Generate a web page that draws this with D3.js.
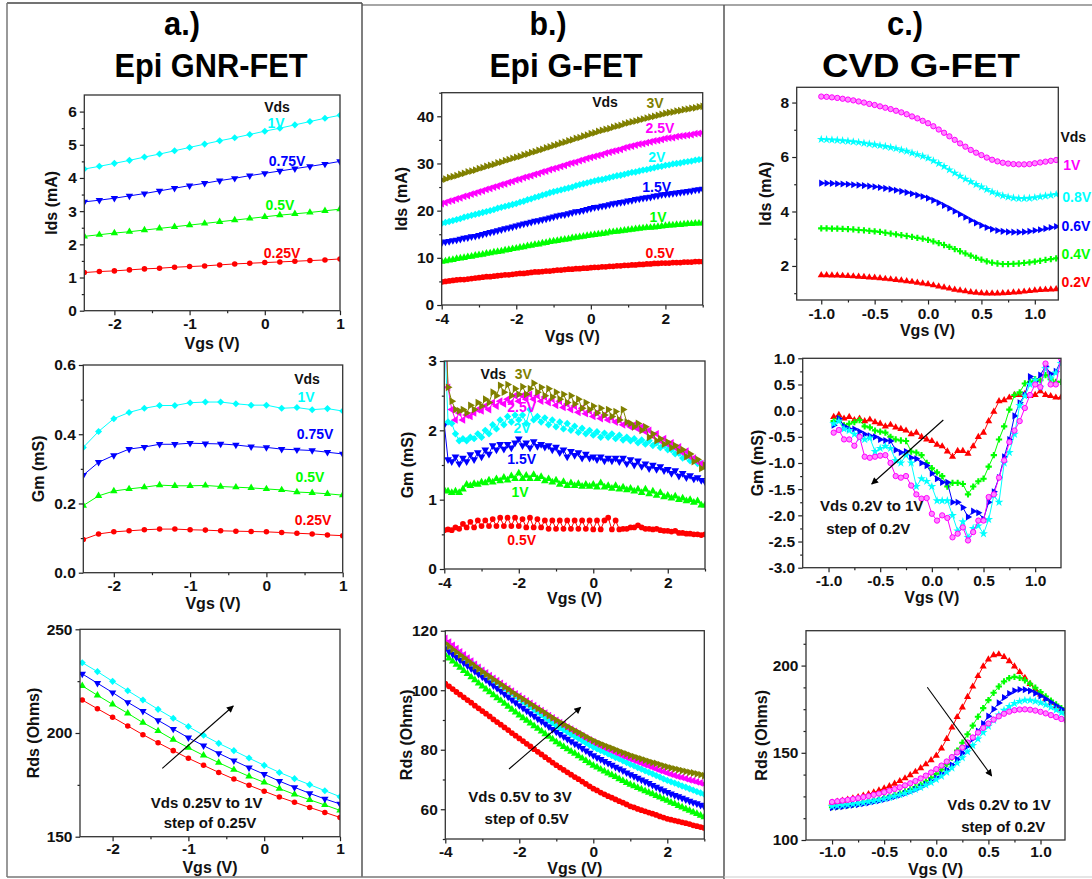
<!DOCTYPE html>
<html><head><meta charset="utf-8">
<script src="https://cdn.jsdelivr.net/npm/d3@7"></script>
<style>body{margin:0;background:#fff}</style>
</head><body>
<script>
// ---------------- DATA ----------------
const xA = [-2.4,-2.2,-2.0,-1.8,-1.6,-1.4,-1.2,-1.0,-0.8,-0.6,-0.4,-0.2,0,0.2,0.4,0.6,0.8,1.0];
const a1Red   = [1.15,1.18,1.20,1.23,1.26,1.28,1.31,1.33,1.35,1.38,1.41,1.43,1.45,1.47,1.49,1.51,1.53,1.56];
const a1Green = [2.24,2.29,2.34,2.38,2.43,2.48,2.53,2.58,2.63,2.68,2.73,2.78,2.83,2.88,2.92,2.96,3.01,3.06];
const a1Blue  = [3.28,3.33,3.39,3.46,3.53,3.61,3.69,3.77,3.84,3.92,3.99,4.07,4.14,4.21,4.28,4.35,4.42,4.50];
const a1Cyan  = [4.27,4.35,4.44,4.53,4.63,4.72,4.82,4.92,5.02,5.12,5.21,5.31,5.41,5.50,5.60,5.70,5.80,5.89];
const a2Red   = [0.096,0.112,0.118,0.121,0.124,0.126,0.126,0.124,0.123,0.121,0.120,0.119,0.118,0.116,0.114,0.112,0.109,0.107];
const a2Green = [0.194,0.222,0.236,0.242,0.247,0.253,0.251,0.251,0.252,0.249,0.247,0.245,0.242,0.239,0.233,0.231,0.228,0.224];
const a2Blue  = [0.282,0.319,0.339,0.357,0.363,0.371,0.371,0.374,0.373,0.372,0.369,0.364,0.362,0.357,0.355,0.353,0.348,0.343];
const a2Cyan  = [0.362,0.408,0.445,0.463,0.475,0.483,0.483,0.491,0.493,0.493,0.488,0.484,0.484,0.475,0.477,0.471,0.474,0.467];
const a3Red   = [215.9,211.7,207.6,203.4,199.2,195.3,191.5,187.8,184.4,181.0,177.8,174.8,171.9,169.1,166.6,164.1,161.7,159.3];
const a3Green = [222.7,218.2,213.8,209.5,205.0,201.0,196.8,192.9,189.2,185.7,182.3,179.1,176.2,173.2,170.4,167.8,165.3,162.7];
const a3Blue  = [228.5,224.0,219.5,214.8,210.5,206.1,201.9,197.7,193.9,190.2,186.7,183.3,180.1,176.8,173.8,170.9,168.2,165.8];
const a3Cyan  = [233.9,229.6,224.9,220.4,215.9,211.4,207.1,203.1,198.9,195.0,191.5,187.9,184.4,181.0,178.0,175.1,172.2,169.3];

const xB = [-4,-3.9,-3.8,-3.7,-3.6,-3.5,-3.4,-3.3,-3.2,-3.1,-3,-2.9,-2.8,-2.7,-2.6,-2.5,-2.4,-2.3,-2.2,-2.1,-2,-1.9,-1.8,-1.7,-1.6,-1.5,-1.4,-1.3,-1.2,-1.1,-1,-0.9,-0.8,-0.7,-0.6,-0.5,-0.4,-0.3,-0.2,-0.1,0,0.1,0.2,0.3,0.4,0.5,0.6,0.7,0.8,0.9,1,1.1,1.2,1.3,1.4,1.5,1.6,1.7,1.8,1.9,2,2.1,2.2,2.3,2.4,2.5,2.6,2.7,2.8,2.9,3];
const b1Olive = [26.5,26.7,27.0,27.2,27.4,27.7,27.9,28.2,28.4,28.6,28.9, 29.1,29.4,29.6,29.8,30.1,30.3,30.6,30.8,31.1,31.3, 31.5,31.8,32.0,32.3,32.5,32.8,33.0,33.3,33.5,33.8, 34.0,34.3,34.5,34.8,35.0,35.3,35.5,35.8,36.0,36.3, 36.5,36.8,37.0,37.2,37.4,37.7,37.9,38.1,38.4,38.6, 38.8,39.0,39.2,39.4,39.6,39.8,40.0,40.2,40.4,40.6, 40.8,40.9,41.1,41.2,41.4,41.5,41.7,41.8,42.0,42.1];
const b1Magenta = [21.5,21.7,22.0,22.2,22.5,22.7,23.0,23.2,23.5,23.7,24.0, 24.2,24.5,24.7,25.0,25.2,25.5,25.7,26.0,26.2,26.5, 26.7,27.0,27.2,27.4,27.7,27.9,28.2,28.4,28.7,28.9, 29.1,29.4,29.6,29.9,30.1,30.3,30.6,30.8,31.1,31.3, 31.5,31.7,31.9,32.2,32.4,32.6,32.8,33.0,33.3,33.5, 33.7,33.9,34.1,34.2,34.4,34.6,34.8,34.9,35.1,35.3, 35.4,35.5,35.7,35.8,35.9,36.0,36.1,36.3,36.4,36.5];
const b1Cyan = [17.3,17.5,17.7,17.9,18.1,18.3,18.6,18.8,19.0,19.2,19.4, 19.6,19.8,20.0,20.2,20.5,20.7,20.9,21.1,21.3,21.5, 21.8,22.0,22.3,22.5,22.8,23.0,23.3,23.5,23.8,24.0, 24.2,24.4,24.6,24.8,25.0,25.3,25.5,25.7,25.9,26.1, 26.3,26.5,26.6,26.8,27.0,27.2,27.4,27.5,27.7,27.9, 28.1,28.2,28.4,28.6,28.7,28.9,29.1,29.3,29.4,29.6, 29.7,29.9,30.0,30.1,30.3,30.4,30.5,30.7,30.8,30.9];
const b1Blue = [13.2,13.4,13.5,13.7,13.8,14.0,14.2,14.3,14.5,14.6,14.8, 15.0,15.2,15.4,15.6,15.8,16.0,16.2,16.4,16.6,16.8, 17.0,17.2,17.4,17.6,17.8,17.9,18.1,18.3,18.5,18.7, 18.9,19.1,19.2,19.4,19.6,19.8,19.9,20.1,20.3,20.5, 20.7,20.8,21.0,21.1,21.3,21.5,21.6,21.8,21.9,22.1, 22.2,22.4,22.5,22.7,22.8,22.9,23.1,23.2,23.4,23.5, 23.6,23.7,23.8,23.9,24.0,24.1,24.2,24.4,24.5,24.6];
const b1Green = [9.2,9.3,9.5,9.6,9.8,9.9,10.0,10.2,10.3,10.5,10.6, 10.7,10.9,11.0,11.2,11.3,11.4,11.6,11.7,11.9,12.0, 12.2,12.3,12.5,12.6,12.8,12.9,13.1,13.2,13.4,13.5, 13.6,13.8,13.9,14.0,14.2,14.3,14.4,14.5,14.7,14.8, 14.9,15.0,15.1,15.2,15.4,15.5,15.6,15.7,15.8,15.9, 16.0,16.1,16.2,16.3,16.4,16.4,16.5,16.6,16.7,16.8, 16.9,16.9,17.0,17.0,17.1,17.2,17.2,17.3,17.3,17.4];
const b1Red = [4.9,5.0,5.1,5.2,5.3,5.4,5.4,5.5,5.6,5.7,5.8, 5.9,6.0,6.0,6.1,6.2,6.3,6.4,6.4,6.5,6.6, 6.7,6.7,6.8,6.9,7.0,7.0,7.1,7.2,7.2,7.3, 7.4,7.4,7.5,7.6,7.6,7.7,7.7,7.8,7.8,7.9, 8.0,8.0,8.1,8.1,8.2,8.2,8.3,8.3,8.4,8.4, 8.5,8.5,8.6,8.6,8.7,8.7,8.8,8.8,8.9,8.9, 8.9,9.0,9.0,9.0,9.1,9.1,9.1,9.2,9.2,9.2];

const b2Olive = [4.2,2.62,2.42,2.3,2.28,2.3,2.25,2.36,2.3,2.4,2.35, 2.45,2.4,2.55,2.5,2.65,2.55,2.66,2.5,2.6,2.52, 2.63,2.52,2.6,2.68,2.55,2.62,2.5,2.6,2.48,2.55, 2.45,2.52,2.4,2.5,2.38,2.45,2.32,2.4,2.3,2.35, 2.25,2.32,2.22,2.3,2.2,2.27,2.15,2.3,2.12,2.1, 2.05,2.1,2.0,2.05,1.9,1.95,1.85,1.88,1.8,1.83, 1.75,1.78,1.7,1.72,1.62,1.66,1.55,1.58,1.45,1.5];
const b2Magenta = [3.8,2.62,2.3,2.15,2.25,2.15,2.22,2.2,2.25,2.3,2.28, 2.35,2.3,2.4,2.35,2.42,2.38,2.45,2.4,2.5,2.42, 2.5,2.45,2.52,2.45,2.5,2.42,2.48,2.4,2.45,2.36, 2.42,2.33,2.38,2.3,2.35,2.26,2.32,2.24,2.28,2.2, 2.25,2.17,2.22,2.15,2.18,2.12,2.15,2.08,2.1,2.05, 2.08,2.02,2.05,1.98,2.0,1.92,1.95,1.85,1.88,1.8, 1.82,1.75,1.76,1.68,1.7,1.62,1.6,1.55,1.52,1.48];
const b2Cyan = [3.5,2.12,2.1,1.95,1.85,1.88,1.85,1.9,1.88,1.95,1.9, 2.0,1.95,2.08,2.02,2.15,2.08,2.2,2.12,2.22,2.15, 2.22,2.1,2.3,2.15,2.2,2.12,2.18,2.08,2.15,2.05, 2.12,2.02,2.1,2.0,2.06,1.97,2.03,1.95,2.0,1.93, 1.98,1.9,1.96,1.9,1.95,1.88,1.93,1.86,1.9,1.85, 1.88,1.82,1.86,1.8,1.85,1.78,1.82,1.75,1.78,1.72, 1.72,1.66,1.67,1.6,1.62,1.56,1.57,1.52,1.52,1.48];
const b2Blue = [2.08,1.58,1.55,1.62,1.52,1.6,1.55,1.65,1.58,1.68,1.62, 1.72,1.66,1.78,1.72,1.8,1.73,1.8,1.75,1.82,1.88, 1.78,1.82,1.75,1.84,1.77,1.8,1.76,1.78,1.72,1.76, 1.68,1.72,1.62,1.7,1.64,1.68,1.6,1.66,1.6,1.62, 1.58,1.62,1.56,1.6,1.56,1.6,1.55,1.6,1.52,1.58, 1.5,1.56,1.48,1.52,1.45,1.5,1.44,1.48,1.42,1.44, 1.38,1.42,1.34,1.38,1.32,1.35,1.3,1.32,1.28,1.26];
const b2Green = [1.14,1.12,1.1,1.12,1.1,1.15,1.22,1.2,1.23,1.22,1.25, 1.24,1.28,1.25,1.3,1.27,1.32,1.28,1.34,1.3,1.38, 1.3,1.35,1.3,1.36,1.3,1.33,1.27,1.3,1.25,1.28, 1.22,1.26,1.2,1.24,1.2,1.23,1.19,1.22,1.19,1.22, 1.18,1.24,1.18,1.2,1.16,1.2,1.15,1.18,1.14,1.16, 1.12,1.15,1.1,1.15,1.08,1.12,1.06,1.1,1.04,1.06, 1.02,1.05,1.0,1.02,0.98,1.0,0.96,0.98,0.92,0.92];
const b2Red = [0.56,0.57,0.56,0.6,0.58,0.65,0.6,0.68,0.6,0.7,0.62, 0.7,0.62,0.72,0.62,0.74,0.62,0.74,0.62,0.74,0.62, 0.72,0.6,0.74,0.6,0.72,0.6,0.7,0.58,0.7,0.58, 0.7,0.58,0.7,0.58,0.7,0.58,0.7,0.58,0.7,0.57, 0.7,0.57,0.7,0.74,0.57,0.7,0.57,0.58,0.58,0.6, 0.6,0.63,0.6,0.58,0.58,0.57,0.58,0.56,0.55,0.55, 0.54,0.55,0.52,0.52,0.51,0.51,0.5,0.5,0.49,0.5];

const b3Olive = [115.7,114.7,113.7,112.8,111.8,110.9,109.9,109.0,108.0,107.1,106.2, 105.3,104.5,103.6,102.8,102.0,101.1,100.3,99.4,98.6,97.8, 97.0,96.2,95.4,94.6,93.8,93.1,92.3,91.5,90.7,89.9, 89.2,88.5,87.8,87.1,86.4,85.8,85.1,84.4,83.7,83.1, 82.5,82.0,81.5,81.0,80.5,80.0,79.5,79.0,78.6,78.1, 77.7,77.3,76.9,76.5,76.1,75.7,75.4,75.0,74.6,74.2, 73.9,73.6,73.3,73.0,72.7,72.4,72.2,71.9,71.6,71.3];
const b3Magenta = [117.4,116.2,115.1,114.0,112.9,111.9,110.8,109.8,108.7,107.7,106.7, 105.8,104.9,104.0,103.2,102.3,101.4,100.5,99.7,98.8,98.0, 97.2,96.4,95.6,94.8,93.9,93.1,92.3,91.5,90.7,89.9, 89.1,88.4,87.6,86.9,86.2,85.4,84.7,84.0,83.3,82.6, 82.0,81.4,80.8,80.2,79.7,79.1,78.6,78.0,77.5,77.0, 76.5,76.0,75.5,75.0,74.6,74.1,73.6,73.1,72.7,72.2, 71.8,71.4,71.0,70.7,70.3,69.9,69.6,69.2,68.9,68.5];
const b3Cyan = [116.3,115.3,114.3,113.3,112.3,111.3,110.3,109.4,108.4,107.4,106.4, 105.5,104.6,103.6,102.7,101.8,100.9,100.0,99.0,98.1,97.2, 96.3,95.4,94.5,93.6,92.7,91.8,90.9,90.0,89.1,88.2, 87.4,86.7,86.0,85.2,84.5,83.8,83.1,82.3,81.6,80.9, 80.3,79.7,79.2,78.6,78.0,77.4,76.9,76.3,75.7,75.1, 74.6,74.0,73.5,72.9,72.4,71.9,71.3,70.8,70.2,69.7, 69.2,68.8,68.3,67.8,67.4,66.9,66.4,65.9,65.5,65.0];
const b3Blue = [114.0,113.0,112.1,111.1,110.2,109.2,108.3,107.3,106.4,105.4,104.5, 103.5,102.6,101.6,100.7,99.7,98.7,97.8,96.8,95.9,94.9, 94.0,93.1,92.2,91.3,90.4,89.6,88.7,87.8,86.9,86.0, 85.2,84.4,83.6,82.8,82.0,81.3,80.5,79.7,78.9,78.1, 77.4,76.8,76.1,75.5,74.9,74.2,73.6,73.0,72.3,71.7, 71.1,70.5,69.9,69.3,68.7,68.1,67.5,66.9,66.3,65.7, 65.2,64.7,64.3,63.8,63.3,62.8,62.3,61.9,61.4,60.9];
const b3Green = [111.8,110.7,109.7,108.6,107.6,106.5,105.5,104.4,103.4,102.3,101.3, 100.3,99.4,98.4,97.4,96.5,95.5,94.5,93.5,92.6,91.6, 90.7,89.8,88.9,88.0,87.1,86.2,85.3,84.4,83.5,82.6, 81.8,81.0,80.2,79.4,78.7,77.9,77.1,76.3,75.5,74.7, 74.1,73.4,72.8,72.1,71.5,70.9,70.2,69.6,68.9,68.3, 67.8,67.2,66.7,66.1,65.6,65.1,64.5,64.0,63.4,62.9, 62.3,61.8,61.2,60.7,60.1,59.6,59.0,58.5,57.9,57.4];
const b3Red = [102.2,101.3,100.4,99.4,98.5,97.6,96.7,95.8,94.8,93.9,93.0, 92.1,91.2,90.2,89.3,88.4,87.5,86.6,85.6,84.7,83.8, 82.9,82.0,81.1,80.2,79.3,78.4,77.5,76.6,75.7,74.8, 74.0,73.2,72.4,71.6,70.8,70.1,69.3,68.5,67.7,66.9, 66.3,65.6,65.0,64.4,63.9,63.3,62.7,62.2,61.6,61.0, 60.6,60.1,59.7,59.3,58.9,58.5,58.1,57.6,57.2,56.8, 56.5,56.2,55.9,55.6,55.3,55.0,54.6,54.3,54.0,53.7];

const xC = [-1,-0.95,-0.9,-0.85,-0.8,-0.75,-0.7,-0.65,-0.6,-0.55,-0.5,-0.45,-0.4,-0.35,-0.3,-0.25,-0.2,-0.15,-0.1,-0.05,0,0.05,0.1,0.15,0.2,0.25,0.3,0.35,0.4,0.45,0.5,0.55,0.6,0.65,0.7,0.75,0.8,0.85,0.9,0.95,1,1.05,1.1,1.15,1.2,1.25];
const c1Magenta = [8.22,8.21,8.19,8.17,8.14,8.11,8.08,8.04,8.00,7.95, 7.91,7.86,7.81,7.76,7.70,7.64,7.57,7.49,7.42,7.33, 7.24,7.13,7.01,6.89,6.76,6.63,6.50,6.38,6.26,6.16, 6.07,5.98,5.90,5.84,5.79,5.76,5.74,5.73,5.73,5.74, 5.77,5.80,5.83,5.86,5.89,5.92];
const c1Cyan = [6.65,6.64,6.63,6.62,6.60,6.58,6.56,6.54,6.51,6.48, 6.45,6.42,6.39,6.35,6.31,6.26,6.21,6.15,6.09,6.03, 5.96,5.86,5.76,5.65,5.53,5.41,5.30,5.19,5.09,4.99, 4.90,4.81,4.72,4.64,4.58,4.53,4.50,4.48,4.48,4.49, 4.51,4.54,4.57,4.60,4.63,4.66];
const c1Blue = [5.04,5.04,5.03,5.02,5.01,5.00,4.98,4.97,4.95,4.93, 4.91,4.88,4.85,4.82,4.78,4.74,4.70,4.65,4.60,4.55, 4.49,4.41,4.32,4.22,4.12,4.01,3.90,3.79,3.68,3.58, 3.49,3.41,3.35,3.30,3.27,3.25,3.24,3.24,3.25,3.27, 3.30,3.33,3.37,3.41,3.45,3.49];
const c1Green = [3.38,3.38,3.37,3.37,3.36,3.35,3.34,3.32,3.31,3.29, 3.27,3.25,3.22,3.19,3.16,3.13,3.10,3.07,3.03,3.00, 2.96,2.90,2.84,2.77,2.70,2.62,2.54,2.46,2.38,2.30, 2.23,2.17,2.12,2.09,2.07,2.07,2.08,2.09,2.11,2.13, 2.16,2.19,2.22,2.25,2.28,2.31];
const c1Red = [1.66,1.66,1.65,1.65,1.64,1.63,1.62,1.61,1.60,1.58, 1.57,1.55,1.53,1.51,1.49,1.47,1.44,1.42,1.39,1.36, 1.33,1.29,1.25,1.21,1.17,1.13,1.10,1.07,1.04,1.02, 1.00,0.99,0.99,0.99,1.00,1.01,1.03,1.04,1.06,1.08, 1.10,1.12,1.13,1.14,1.15,1.16];

const xC2 = [-0.95,-0.9,-0.85,-0.8,-0.75,-0.7,-0.65,-0.6,-0.55,-0.5,-0.45,-0.4,-0.35,-0.3,-0.25,-0.2,-0.15,-0.1,-0.05,0,0.05,0.1,0.15,0.2,0.25,0.3,0.35,0.4,0.45,0.5,0.55,0.6,0.65,0.7,0.75,0.8,0.85,0.9,0.95,1,1.05,1.1,1.15,1.2,1.25];
const c2Red = [-0.12,-0.08,-0.15,-0.12,-0.18,-0.15,-0.2,-0.17,-0.22,-0.25, -0.3,-0.27,-0.32,-0.35,-0.38,-0.45,-0.42,-0.5,-0.55,-0.58, -0.65,-0.68,-0.78,-0.88,-0.77,-0.77,-0.82,-0.68,-0.5,-0.42, -0.2,-0.02,0.18,0.2,0.25,0.3,0.3,0.32,0.28,0.3, 0.37,0.3,0.28,0.25,0.25];
const c2Green = [-0.2,-0.15,-0.28,-0.25,-0.22,-0.18,-0.3,-0.32,-0.38,-0.4, -0.42,-0.5,-0.55,-0.57,-0.58,-0.78,-0.8,-0.85,-1.0,-1.1, -1.18,-1.25,-1.45,-1.38,-1.38,-1.4,-1.6,-1.45,-1.35,-1.3, -1.07,-0.85,-0.55,-0.3,0.02,0.3,0.35,0.52,0.55,0.6, 0.58,0.68,0.6,0.55,0.55];
const c2Blue = [-0.28,-0.15,-0.3,-0.35,-0.35,-0.4,-0.45,-0.48,-0.5,-0.55, -0.57,-0.58,-0.75,-0.8,-0.78,-0.9,-0.92,-1.0,-1.05,-1.2, -1.3,-1.37,-1.37,-1.75,-1.75,-1.85,-2.03,-1.92,-1.95,-2.07, -1.75,-1.55,-1.28,-0.88,-0.55,-0.1,0.15,0.3,0.65,0.55, 0.68,0.85,0.7,0.75,0.95];
const c2Cyan = [-0.25,-0.2,-0.35,-0.38,-0.45,-0.52,-0.55,-0.52,-0.78,-0.72, -0.68,-0.72,-0.95,-1.0,-0.85,-1.0,-1.45,-1.3,-1.35,-1.45, -1.72,-1.72,-1.72,-2.0,-2.3,-2.12,-2.42,-2.25,-2.2,-2.35, -2.08,-1.62,-1.75,-1.0,-0.8,-0.45,0.1,0.28,0.5,0.58, 0.45,0.8,0.62,0.72,0.9];
const c2Magenta = [-0.42,-0.37,-0.55,-0.55,-0.67,-0.5,-0.88,-0.9,-0.88,-0.86, -0.85,-1.0,-1.25,-1.28,-1.25,-1.43,-1.6,-1.68,-1.67,-1.97, -2.1,-2.0,-2.05,-2.42,-2.35,-2.23,-2.48,-2.32,-2.1,-2.1, -1.65,-1.6,-1.28,-0.95,-0.6,-0.38,-0.2,0.05,0.3,0.5, 0.45,0.9,0.5,0.5,1.0];

const c3Red = [121.5,122.0,122.6,123.2,123.9,124.6,125.4,126.3,127.3,128.4, 129.6,130.9,132.3,133.8,135.4,137.2,139.1,141.2,143.4,145.8, 148.4,152.5,158.0,164.5,170.5,176.0,182.0,188.0,194.0,199.5, 203.5,206.0,206.5,205.0,202.5,199.5,196.3,193.0,189.5,186.3, 183.5,181.0,178.7,176.6,174.8,173.2];
const c3Green = [118.8,119.1,119.5,119.9,120.3,120.8,121.3,121.9,122.5,123.2, 124.0,124.8,125.7,126.7,127.8,129.0,130.3,131.8,133.5,135.5, 137.8,140.4,143.5,147.2,151.3,155.8,160.6,165.6,170.7,175.6, 180.2,184.4,188.0,190.9,192.8,193.5,193.0,191.6,189.6,187.3, 184.8,182.3,179.9,177.7,175.6,173.6];
const c3Blue = [118.5,118.8,119.1,119.5,119.9,120.3,120.8,121.3,121.9,122.5, 123.2,124.0,124.8,125.7,126.7,127.8,129.0,130.4,131.9,133.6, 135.5,137.7,140.2,143.0,146.2,149.8,153.8,158.0,162.4,166.8, 171.0,175.0,178.6,181.7,184.0,185.6,186.3,186.2,185.5,184.2, 182.6,180.8,178.9,177.0,175.1,173.3];
const c3Cyan = [119.3,119.6,119.9,120.2,120.6,121.0,121.4,121.9,122.4,123.0, 123.6,124.3,125.1,125.9,126.8,127.8,128.9,130.1,131.5,133.0, 134.7,136.6,138.8,141.3,144.1,147.2,150.6,154.2,157.9,161.6, 165.2,168.6,171.7,174.4,176.6,178.3,179.5,180.1,180.1,179.6, 178.7,177.5,176.1,174.6,173.0,171.5];
const c3Magenta = [121.8,122.2,122.6,123.0,123.5,124.0,124.6,125.2,125.9,126.6, 127.4,128.3,129.2,130.2,131.3,132.5,133.8,135.3,136.9,138.7, 140.6,142.7,145.0,147.5,150.2,153.0,155.9,158.8,161.6,164.3, 166.8,169.0,170.9,172.4,173.6,174.4,174.8,174.9,174.7,174.2, 173.5,172.6,171.6,170.5,169.4,168.3];

const xTicksA = [-2,-1,0,1];
const xTicksB = [-4,-2,0,2];
const xTicksC = [-1,-0.5,0,0.5,1];

// ---------------- DRAWING ----------------
const W=1092,H=879;
const FONT="'Liberation Sans', Arial, Helvetica, sans-serif";
const COL={red:"#ff0000",green:"#00ff00",blue:"#0000ff",cyan:"#00ffff",magenta:"#ff00ff",olive:"#808000"};
const svg=d3.select("body").append("svg").attr("width",W).attr("height",H).style("display","block");
svg.append("rect").attr("width",W).attr("height",H).attr("fill","#fff");
const defs=svg.append("defs");
defs.append("marker").attr("id","ah").attr("viewBox","0 0 10 10").attr("refX",9).attr("refY",5)
  .attr("markerWidth",9).attr("markerHeight",7).attr("markerUnits","userSpaceOnUse").attr("orient","auto")
  .append("path").attr("d","M0,0L10,5L0,10Z").attr("fill","#000");

const hy = s => s.replace(/\u2212/g,"-");
const fInt = v => hy(d3.format("d")(v));
const f1 = v => hy(d3.format(".1f")(v));
const ROT={down:180,left:-90,right:90};
function markerPath(m,s){
  const r=Math.sqrt(s);
  if(m==="circle"||m==="ball") return d3.symbol(d3.symbolCircle,s)();
  if(m==="diamond"){const a=r*0.72;return `M0,${-a}L${a},0L0,${a}L${-a},0Z`;}
  if(m==="star") return d3.symbol(d3.symbolStar,s*1.1)();
  if(m==="cross") return d3.symbol(d3.symbolCross,s)();
  return d3.symbol(d3.symbolTriangle,s)();
}
function txt(sel,x,y,t,size,color,anchor){
  return sel.append("text").attr("x",x).attr("y",y).attr("text-anchor",anchor||"middle")
    .attr("dominant-baseline","central").attr("font-family",FONT).attr("font-weight","bold")
    .attr("font-size",size).attr("fill",color||"#111").text(t);
}
let clipN=0;
function panel(p){
  const x=d3.scaleLinear().domain(p.xd).range([p.l,p.r]);
  const y=d3.scaleLinear().domain(p.yd).range([p.b,p.t]);
  const g=svg.append("g");
  const cid="clip"+(clipN++);
  defs.append("clipPath").attr("id",cid).append("rect").attr("x",p.l).attr("y",p.t).attr("width",p.r-p.l).attr("height",p.b-p.t);
  const dg=g.append("g").attr("clip-path",`url(#${cid})`);
  p.series.forEach(s=>{
    const pts=s.x.map((v,i)=>[v,s.y[i]]);
    dg.append("path").attr("d",d3.line().x(d=>x(d[0])).y(d=>y(d[1]))(pts))
      .attr("fill","none").attr("stroke",s.c).attr("stroke-width",1);
    const mp=markerPath(s.m,p.ms);
    dg.append("g").selectAll("path").data(pts).join("path").attr("d",mp)
      .attr("transform",d=>`translate(${x(d[0])},${y(d[1])})rotate(${ROT[s.m]||0})`)
      .attr("fill",s.m==="ball"?"#ff88ff":s.c).attr("stroke",s.m==="ball"?s.c:"none").attr("stroke-width",1);
  });
  const pad=p.tp==null?3:p.tp;
  const ax=g.append("g");
  ax.append("g").attr("transform",`translate(0,${p.b})`).call(d3.axisBottom(x).tickValues(p.xt).tickFormat(p.xf).tickSize(4.5).tickPadding(pad));
  ax.append("g").attr("transform",`translate(0,${p.b})`).call(d3.axisBottom(x).tickValues(p.xm).tickFormat("").tickSize(2.5));
  ax.append("g").attr("transform",`translate(${p.l},0)`).call(d3.axisLeft(y).tickValues(p.yt).tickFormat(p.yf).tickSize(4.5).tickPadding(3));
  ax.append("g").attr("transform",`translate(${p.l},0)`).call(d3.axisLeft(y).tickValues(p.ym).tickFormat("").tickSize(2.5));
  ax.selectAll(".domain").remove();
  ax.selectAll(".tick line").attr("stroke","#222").attr("stroke-width",1.2);
  ax.selectAll(".tick text").attr("font-family",FONT).attr("font-size",15.5).attr("font-weight","bold").attr("fill","#111");
  g.append("rect").attr("x",p.l).attr("y",p.t).attr("width",p.r-p.l).attr("height",p.b-p.t)
    .attr("fill","none").attr("stroke","#333").attr("stroke-width",1.3);
  txt(g,(p.l+p.r)/2,p.xty,"Vgs (V)",16);
  txt(g,0,0,p.ytitle,16).attr("transform",`translate(${p.ytx},${(p.t+p.b)/2})rotate(-90)`);
  (p.labels||[]).forEach(L=>txt(g,L.x,L.y,L.t,14,L.c));
  if(p.arrow){
    const A=p.arrow;
    g.append("line").attr("x1",A.x1).attr("y1",A.y1).attr("x2",A.x2).attr("y2",A.y2)
      .attr("stroke","#000").attr("stroke-width",1.1).attr("marker-end","url(#ah)");
    A.text.forEach(T=>txt(g,T.x,T.y,T.t,15,"#111"));
  }
}

// outer boxes
const box=svg.append("g").attr("fill","none");
box.append("line").attr("x1",7).attr("y1",3).attr("x2",362).attr("y2",3).attr("stroke","#444").attr("stroke-width",1.5);
box.append("line").attr("x1",362).attr("y1",5).attr("x2",1092).attr("y2",5).attr("stroke","#888").attr("stroke-width",1.5);
box.append("line").attr("x1",7).attr("y1",3).attr("x2",7).attr("y2",877).attr("stroke","#777").attr("stroke-width",1.5);
box.append("line").attr("x1",362).attr("y1",3).attr("x2",362).attr("y2",877).attr("stroke","#555").attr("stroke-width",1.5);
box.append("line").attr("x1",724).attr("y1",5).attr("x2",724).attr("y2",879).attr("stroke","#555").attr("stroke-width",1.5);
box.append("line").attr("x1",7).attr("y1",877).attr("x2",724).attr("y2",877).attr("stroke","#777").attr("stroke-width",1.5);
box.append("line").attr("x1",724).attr("y1",877).attr("x2",1092).attr("y2",877).attr("stroke","#ccc").attr("stroke-width",1.2);

// headings
function heading(x,y,t,len){
  svg.append("text").attr("x",x).attr("y",y).attr("text-anchor","middle").attr("dominant-baseline","central")
    .attr("font-family","'Liberation Sans Narrow','Arial Narrow','Liberation Sans',Arial,sans-serif")
    .attr("font-weight","bold").attr("font-size",34).attr("fill","#000")
    .attr("textLength",len).attr("lengthAdjust","spacingAndGlyphs").text(t);
}
heading(182,23,"a.)",36);
heading(211,65,"Epi GNR-FET",193);
heading(548,23,"b.)",37);
heading(566,65,"Epi G-FET",153);
heading(905,23,"c.)",36);
heading(921,65,"CVD G-FET",198);

// panel a
panel({l:84.3,t:95,r:340,b:310.7,xd:[-2.4,1],yd:[0,6.5],xt:xTicksA,xm:[-1.5,-0.5,0.5],xf:fInt,
  yt:[0,1,2,3,4,5,6],ym:[0.5,1.5,2.5,3.5,4.5,5.5],yf:fInt,ms:24,ytitle:"Ids (mA)",ytx:51.7,xty:343,
  series:[{x:xA,y:a1Red,c:COL.red,m:"circle"},{x:xA,y:a1Green,c:COL.green,m:"up"},{x:xA,y:a1Blue,c:COL.blue,m:"down"},{x:xA,y:a1Cyan,c:COL.cyan,m:"diamond"}],
  labels:[{t:"Vds",x:277,y:106.7,c:"#111"},{t:"1V",x:276,y:123,c:COL.cyan},{t:"0.75V",x:287,y:160.7,c:COL.blue},{t:"0.5V",x:280,y:205,c:COL.green},{t:"0.25V",x:282,y:253,c:COL.red}]});
panel({l:83.3,t:365,r:342.7,b:572.7,xd:[-2.4,1],yd:[0,0.6],xt:xTicksA,xm:[-1.5,-0.5,0.5],xf:fInt,
  yt:[0,0.2,0.4,0.6],ym:[0.1,0.3,0.5],yf:f1,ms:24,ytitle:"Gm (mS)",ytx:38,xty:603,
  series:[{x:xA,y:a2Red,c:COL.red,m:"circle"},{x:xA,y:a2Green,c:COL.green,m:"up"},{x:xA,y:a2Blue,c:COL.blue,m:"down"},{x:xA,y:a2Cyan,c:COL.cyan,m:"diamond"}],
  labels:[{t:"Vds",x:307,y:379,c:"#111"},{t:"1V",x:306,y:397,c:COL.cyan},{t:"0.75V",x:315,y:434,c:COL.blue},{t:"0.5V",x:310,y:477,c:COL.green},{t:"0.25V",x:313,y:520,c:COL.red}]});
panel({l:80,t:629.3,r:340,b:836.7,xd:[-2.43,1],yd:[150,250],xt:xTicksA,xm:[-1.5,-0.5,0.5],xf:fInt,
  yt:[150,200,250],ym:[175,225],yf:fInt,ms:24,ytitle:"Rds (Ohms)",ytx:33,xty:867.5,tp:2,
  series:[{x:xA,y:a3Red,c:COL.red,m:"circle"},{x:xA,y:a3Green,c:COL.green,m:"up"},{x:xA,y:a3Blue,c:COL.blue,m:"down"},{x:xA,y:a3Cyan,c:COL.cyan,m:"diamond"}],
  arrow:{x1:162.3,y1:768.3,x2:233.3,y2:706,text:[{t:"Vds 0.25V to 1V",x:206.7,y:802.7},{t:"step of 0.25V",x:210,y:822.7}]}});

// panel b
const bSeries=(r,g,bl,cy,mg,ol)=>[{x:xB,y:r,c:COL.red,m:"circle"},{x:xB,y:g,c:COL.green,m:"up"},{x:xB,y:bl,c:COL.blue,m:"down"},{x:xB,y:cy,c:COL.cyan,m:"diamond"},{x:xB,y:mg,c:COL.magenta,m:"left"},{x:xB,y:ol,c:COL.olive,m:"right"}];
panel({l:441.7,t:92.7,r:702.7,b:305,xd:[-4,3],yd:[0,45],xt:xTicksB,xm:[-3,-1,1,3],xf:fInt,
  yt:[0,10,20,30,40],ym:[5,15,25,35,45],yf:fInt,ms:26,ytitle:"Ids (mA)",ytx:401.7,xty:336.7,
  series:bSeries(b1Red,b1Green,b1Blue,b1Cyan,b1Magenta,b1Olive),
  labels:[{t:"Vds",x:605,y:101.7,c:"#111"},{t:"3V",x:655,y:103,c:COL.olive},{t:"2.5V",x:660,y:128,c:COL.magenta},{t:"2V",x:656.7,y:157,c:COL.cyan},{t:"1.5V",x:656.7,y:187,c:COL.blue},{t:"1V",x:658,y:216.7,c:COL.green},{t:"0.5V",x:660,y:252.7,c:COL.red}]});
panel({l:444.3,t:361,r:705,b:569,xd:[-4,3],yd:[0,3],xt:xTicksB,xm:[-3,-1,1,3],xf:fInt,
  yt:[0,1,2,3],ym:[0.5,1.5,2.5],yf:fInt,ms:26,ytitle:"Gm (mS)",ytx:407.7,xty:598,
  series:bSeries(b2Red,b2Green,b2Blue,b2Cyan,b2Magenta,b2Olive),
  labels:[{t:"Vds",x:493.3,y:374.3,c:"#111"},{t:"3V",x:523.3,y:374,c:COL.olive},{t:"2.5V",x:521.7,y:406.7,c:COL.magenta},{t:"2V",x:522,y:428,c:COL.cyan},{t:"1.5V",x:521.7,y:459,c:COL.blue},{t:"1V",x:520,y:491.7,c:COL.green},{t:"0.5V",x:521.7,y:540,c:COL.red}]});
panel({l:445.3,t:630.7,r:704.3,b:839,xd:[-4,3],yd:[50,120],xt:xTicksB,xm:[-3,-1,1,3],xf:fInt,
  yt:[60,80,100,120],ym:[50,70,90,110],yf:fInt,ms:26,ytitle:"Rds (Ohms)",ytx:406.7,xty:868,tp:2,
  series:bSeries(b3Red,b3Green,b3Blue,b3Cyan,b3Magenta,b3Olive),
  arrow:{x1:509,y1:769,x2:580.7,y2:707.3,text:[{t:"Vds 0.5V to 3V",x:520,y:796.7},{t:"step of 0.5V",x:526.7,y:818.3}]}});

// panel c
const cSeries=(xs,r,g,bl,cy,mg)=>[{x:xs,y:r,c:COL.red,m:"up"},{x:xs,y:g,c:COL.green,m:"cross"},{x:xs,y:bl,c:COL.blue,m:"right"},{x:xs,y:cy,c:COL.cyan,m:"star"},{x:xs,y:mg,c:COL.magenta,m:"ball"}];
panel({l:796.7,t:87.3,r:1058.3,b:300,xd:[-1.23,1.22],yd:[0.75,8.56],xt:xTicksC,xm:[-0.75,-0.25,0.25,0.75],xf:f1,
  yt:[2,4,6,8],ym:[1,3,5,7],yf:fInt,ms:22,ytitle:"Ids (mA)",ytx:765,xty:330.7,
  series:cSeries(xC,c1Red,c1Green,c1Blue,c1Cyan,c1Magenta),
  labels:[{t:"Vds",x:1073.3,y:137.3,c:"#111"},{t:"1V",x:1071.7,y:165,c:COL.magenta},{t:"0.8V",x:1076.7,y:196.7,c:COL.cyan},{t:"0.6V",x:1076,y:226,c:COL.blue},{t:"0.4V",x:1076,y:254,c:COL.green},{t:"0.2V",x:1076,y:281.7,c:COL.red}]});
panel({l:802.7,t:358.3,r:1061,b:567.7,xd:[-1.25,1.25],yd:[-3,1],xt:xTicksC,xm:[-0.75,-0.25,0.25,0.75],xf:f1,
  yt:[-3,-2.5,-2,-1.5,-1,-0.5,0,0.5,1],ym:[-2.75,-2.25,-1.75,-1.25,-0.75,-0.25,0.25,0.75],yf:f1,ms:22,ytitle:"Gm (mS)",ytx:757.7,xty:597.3,
  series:cSeries(xC2,c2Red,c2Green,c2Blue,c2Cyan,c2Magenta),
  arrow:{x1:943.3,y1:420,x2:871.7,y2:484,text:[{t:"Vds 0.2V to 1V",x:871.7,y:505.7},{t:"step of 0.2V",x:868.3,y:528.3}]}});
panel({l:806,t:630.7,r:1065,b:840,xd:[-1.25,1.235],yd:[100,220],xt:xTicksC,xm:[-0.75,-0.25,0.25,0.75],xf:f1,
  yt:[100,150,200],ym:[112.5,125,137.5,162.5,175,187.5,212.5],yf:fInt,ms:22,ytitle:"Rds (Ohms)",ytx:761,xty:869,tp:1.5,
  series:cSeries(xC,c3Red,c3Green,c3Blue,c3Cyan,c3Magenta),
  arrow:{x1:927.3,y1:687.3,x2:991.7,y2:776,text:[{t:"Vds 0.2V to 1V",x:999,y:804},{t:"step of 0.2V",x:1003.3,y:826.7}]}});
</script>
</body></html>
